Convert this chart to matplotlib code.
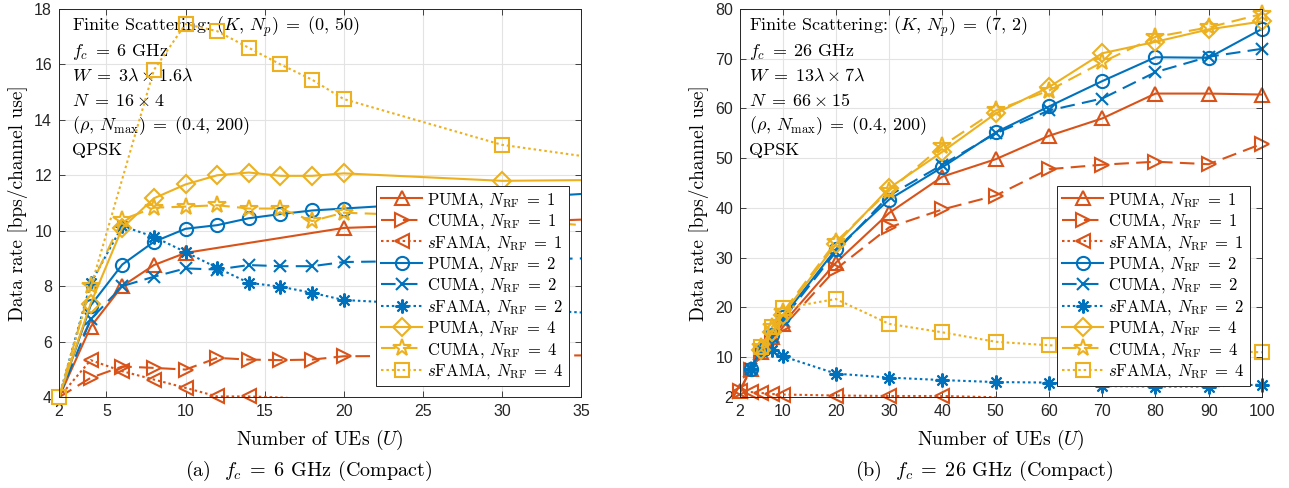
import matplotlib
matplotlib.use('Agg')
import matplotlib.pyplot as plt
from matplotlib.lines import Line2D

plt.rcParams['mathtext.fontset'] = 'cm'
plt.rcParams['font.family'] = ['cmr10', 'DejaVu Serif']
plt.rcParams['axes.unicode_minus'] = False
plt.rcParams['axes.formatter.use_mathtext'] = True

RED = '#D95319'
BLUE = '#0072BD'
YEL = '#EDB120'

# ---------------- (a) fc = 6 GHz ----------------
a_x = [2, 4, 6, 8, 10, 12, 14, 16, 18, 20, 30, 40]
a_x_puma1 = [2, 4, 6, 8, 10, 20, 30, 40]
a_puma1 = [3.99, 6.53, 8.0, 8.76, 9.2, 10.1, 10.3, 10.5]
a_cuma1 = [3.99, 4.69, 5.1, 5.05, 4.99, 5.41, 5.35, 5.33, 5.35, 5.47, 5.5, 5.5]
a_sfama1 = [3.99, 5.33, 4.93, 4.63, 4.33, 4.02, 4.02, 3.985, 3.9, 3.85, 3.7, 3.6]
a_puma2 = [3.99, 7.3, 8.78, 9.6, 10.07, 10.2, 10.45, 10.6, 10.73, 10.8, 11.15, 11.5]
a_cuma2 = [3.99, 6.8, 8.0, 8.34, 8.64, 8.6, 8.76, 8.72, 8.72, 8.87, 8.95, 9.05]
a_sfama2 = [3.99, 8.1, 10.17, 9.78, 9.23, 8.66, 8.12, 7.98, 7.76, 7.5, 7.2, 6.9]
a_puma4 = [3.99, 7.37, 10.1, 11.17, 11.67, 12.0, 12.1, 11.98, 11.98, 12.07, 11.8, 11.85]
a_cuma4 = [3.99, 8.0, 10.4, 10.83, 10.87, 10.92, 10.8, 10.8, 10.35, 10.65, 10.45, 9.95]
a_x_sfama4 = [2, 8, 10, 12, 14, 16, 18, 20, 30, 40]
a_sfama4 = [4.0, 15.8, 17.46, 17.2, 16.6, 16.0, 15.45, 14.75, 13.1, 12.3]

# ---------------- (b) fc = 26 GHz ----------------
b_x1 = [2, 4, 6, 8, 10, 20, 30, 40, 50, 60, 70, 80, 90, 100]
b_puma1 = [3.3, 7.7, 11.0, 14.0, 16.7, 29.0, 39.0, 46.3, 49.8, 54.5, 58.0, 63.0, 63.0, 62.8]
b_cuma1 = [3.3, 7.5, 10.5, 13.0, 16.0, 27.7, 36.1, 39.7, 42.5, 47.8, 48.7, 49.3, 48.8, 52.9]
b_x_sfama1 = [2, 4, 6, 8, 10, 20, 30, 40, 50]
b_sfama1 = [3.3, 3.0, 2.8, 2.6, 2.5, 2.3, 2.2, 2.2, 1.95]
b_x2 = [4, 6, 8, 10, 20, 30, 40, 50, 60, 70, 80, 90, 100]
b_puma2 = [7.7, 11.5, 14.5, 18.0, 31.7, 41.7, 48.2, 55.2, 60.4, 65.5, 70.3, 70.2, 76.0]
b_cuma2 = [7.7, 11.5, 14.0, 17.5, 31.2, 42.5, 48.7, 55.0, 59.6, 62.0, 67.3, 70.4, 72.0]
b_sfama2 = [7.7, 11.3, 11.5, 10.2, 6.7, 5.9, 5.4, 5.0, 4.9, 4.2, 4.1, 4.1, 4.5]
b_x4 = [6, 8, 10, 20, 30, 40, 50, 60, 70, 80, 90, 100]
b_puma4 = [11.5, 15.0, 18.5, 32.7, 44.0, 51.3, 59.0, 64.3, 71.1, 73.4, 75.9, 77.5]
b_cuma4 = [12.0, 16.0, 19.0, 33.2, 43.5, 52.5, 59.6, 63.6, 69.3, 74.4, 76.3, 79.0]
b_sfama4 = [12.0, 16.0, 19.8, 21.7, 16.7, 15.0, 13.1, 12.4, 12.0, 11.6, 11.3, 11.0]

EQ = r'\;=\;'
labels = [r'PUMA, $N_{\mathrm{RF}}' + EQ + '1$', r'CUMA, $N_{\mathrm{RF}}' + EQ + '1$',
          r'$s$FAMA, $N_{\mathrm{RF}}' + EQ + '1$',
          r'PUMA, $N_{\mathrm{RF}}' + EQ + '2$', r'CUMA, $N_{\mathrm{RF}}' + EQ + '2$',
          r'$s$FAMA, $N_{\mathrm{RF}}' + EQ + '2$',
          r'PUMA, $N_{\mathrm{RF}}' + EQ + '4$', r'CUMA, $N_{\mathrm{RF}}' + EQ + '4$',
          r'$s$FAMA, $N_{\mathrm{RF}}' + EQ + '4$']

DASH = (0, (7, 3.5))
DOT = (0, (1.2, 1.4))
AST = (8, 2, 0)
styles = [
    (RED, '-', '^', 10.5), (RED, DASH, '>', 10.5), (RED, DOT, '<', 10.5),
    (BLUE, '-', 'o', 9.5), (BLUE, DASH, 'x', 9), (BLUE, DOT, AST, 10),
    (YEL, '-', 'D', 9.5), (YEL, DASH, '*', 13), (YEL, DOT, 's', 10),
]

a_series = [(a_x_puma1, a_puma1), (a_x, a_cuma1), (a_x, a_sfama1),
            (a_x, a_puma2), (a_x, a_cuma2), (a_x, a_sfama2),
            (a_x, a_puma4), (a_x, a_cuma4), (a_x_sfama4, a_sfama4)]
b_series = [(b_x1, b_puma1), (b_x1, b_cuma1), (b_x_sfama1, b_sfama1),
            (b_x2, b_puma2), (b_x2, b_cuma2), (b_x2, b_sfama2),
            (b_x4, b_puma4), (b_x4, b_cuma4), (b_x4, b_sfama4)]

a_xticks = [2, 5, 10, 15, 20, 25, 30, 35]
a_yticks = [4, 6, 8, 10, 12, 14, 16, 18]
b_xticks = [2, 10, 20, 30, 40, 50, 60, 70, 80, 90, 100]
b_yticks = [2, 10, 20, 30, 40, 50, 60, 70, 80]

a_notes = [r'Finite Scattering: $(K,\,N_p)' + EQ + r'(0,\,50)$', r'$f_c' + EQ + r'6$ GHz',
           r'$W' + EQ + r'3\lambda\times 1.6\lambda$',
           r'$N' + EQ + r'16\times 4$', r'$(\rho,\,N_{\max})' + EQ + r'(0.4,\,200)$', 'QPSK']
b_notes = [r'Finite Scattering: $(K,\,N_p)' + EQ + r'(7,\,2)$', r'$f_c' + EQ + r'26$ GHz',
           r'$W' + EQ + r'13\lambda\times 7\lambda$',
           r'$N' + EQ + r'66\times 15$', r'$(\rho,\,N_{\max})' + EQ + r'(0.4,\,200)$', 'QPSK']

W, H = 1289, 488
fig = plt.figure(figsize=(W / 100, H / 100), dpi=100)
axA = fig.add_axes([59 / W, (H - 397) / H, 522 / W, 388 / H])
axB = fig.add_axes([740 / W, (H - 397) / H, 522 / W, 388 / H])

TICKC = '#262626'


def setup(ax, series, xlim, ylim, xt, yt, notes, note_x):
    handles = []
    for k, ((xs, ys), (c, ls, m, ms), lab) in enumerate(zip(series, styles, labels)):
        z = 2 + 0.01 * k
        ax.plot(xs, ys, color=c, linestyle=ls, lw=1.5, zorder=z)
        inside = [(x, y) for x, y in zip(xs, ys)
                  if xlim[0] <= x <= xlim[1] and ylim[0] <= y <= ylim[1]]
        ax.plot([p[0] for p in inside], [p[1] for p in inside], linestyle='none', marker=m,
                ms=ms, mfc='none', mec=c, mew=1.5, clip_on=False, zorder=z + 0.005)
        handles.append(Line2D([], [], color=c, linestyle=ls, lw=1.5, marker=m, ms=ms,
                              mfc='none', mec=c, mew=1.5, label=lab))
    ax.set_xlim(*xlim)
    ax.set_ylim(*ylim)
    ax.set_xticks(xt)
    ax.set_xticklabels([str(t) for t in xt], fontfamily=['Liberation Sans'], fontsize=11.5, color=TICKC)
    ax.set_yticks(yt)
    ax.set_yticklabels([str(t) for t in yt], fontfamily=['Liberation Sans'], fontsize=11.5, color=TICKC)
    ax.tick_params(direction='in', top=True, right=True, length=4, width=0.6, color=TICKC)
    ax.tick_params(axis='x', pad=5)
    ax.tick_params(axis='y', pad=5)
    ax.grid(True, color='#e3e3e3', lw=0.8)
    ax.set_axisbelow(True)
    for s in ax.spines.values():
        s.set_color(TICKC)
        s.set_linewidth(0.7)
    for i, t in enumerate(notes):
        yb = 30.5 + 25 * i
        ax.text(note_x, (397 - yb) / 388, t, transform=ax.transAxes, fontsize=13,
                ha='left', va='baseline', color='black', zorder=1)
    leg = ax.legend(handles=handles, loc='lower right', bbox_to_anchor=(0.977, 0.028),
                    borderaxespad=0, fontsize=12, handlelength=2.5, handletextpad=0.3,
                    labelspacing=0.15, borderpad=0.3, fancybox=False, framealpha=1,
                    edgecolor=TICKC)
    leg.get_frame().set_linewidth(0.7)
    leg.set_zorder(5)
    ax.set_xlabel(r'Number of UEs $(U)$', fontsize=14)
    ax.set_ylabel('Data rate [bps/channel use]', fontsize=14)
    ax.xaxis.set_label_coords(0.5, -0.08)
    ax.yaxis.set_label_coords(-0.06, 0.5)


setup(axA, a_series, (2, 35), (4, 18), a_xticks, a_yticks, a_notes, 0.024)
setup(axB, b_series, (2, 100), (2, 80), b_xticks, b_yticks, b_notes, 0.017)

fig.text(309 / W, 1 - 471 / H, r'(a)  $f_c' + EQ + r'6$ GHz (Compact)', ha='center', va='center', fontsize=14.5)
fig.text(984 / W, 1 - 471 / H, r'(b)  $f_c' + EQ + r'26$ GHz (Compact)', ha='center', va='center', fontsize=14.5)

fig.savefig('out.png', dpi=100)
